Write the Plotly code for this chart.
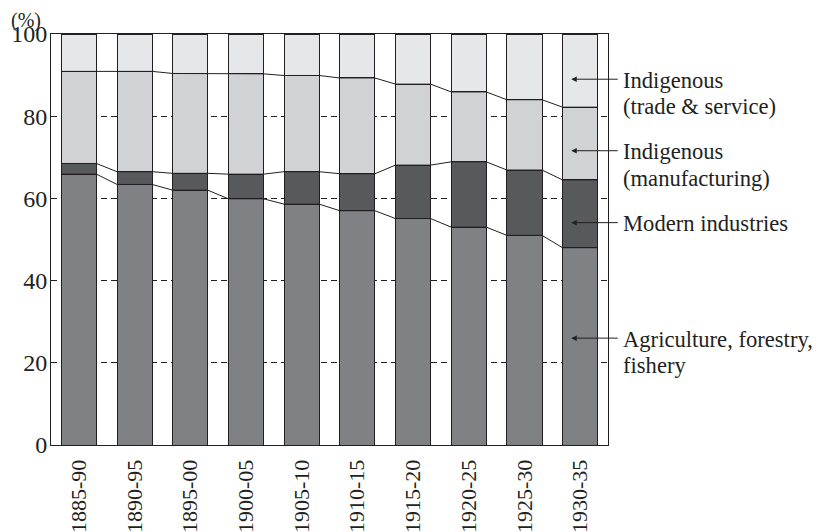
import plotly.graph_objects as go

periods = ["1885-90", "1890-95", "1895-00", "1900-05", "1905-10",
           "1910-15", "1915-20", "1920-25", "1925-30", "1930-35"]
agriculture = [65.9, 63.4, 62.0, 59.9, 58.6, 57.0, 55.1, 53.0, 51.0, 48.0]
modern = [2.6, 3.1, 4.1, 6.0, 7.9, 9.0, 13.0, 15.9, 15.9, 16.5]
manufacturing = [22.4, 24.4, 24.3, 24.4, 23.4, 23.3, 19.7, 17.0, 17.1, 17.7]
trade = [9.1, 9.1, 9.6, 9.7, 10.1, 10.7, 12.2, 14.1, 16.0, 17.8]

series_names = ["Agriculture, forestry, fishery", "Modern industries",
                "Indigenous (manufacturing)", "Indigenous (trade & service)"]
series_values = [agriculture, modern, manufacturing, trade]
series_colors = ["#808184", "#58595b", "#d1d2d4", "#e6e7e8"]
label_lines = [["Agriculture, forestry,", "fishery"], ["Modern industries"],
               ["Indigenous", "(manufacturing)"], ["Indigenous", "(trade & service)"]]

FONT = "'Liberation Serif', 'DejaVu Serif', serif"
INK = "#231f20"
BAR_W = 0.63

x = list(range(len(periods)))
fig = go.Figure()
for name, vals, col in zip(series_names, series_values, series_colors):
    fig.add_trace(go.Bar(x=x, y=vals, name=name, width=BAR_W,
                         marker=dict(color=col, line=dict(color=INK, width=1))))

# connector lines between stacked boundaries
cum = [0.0] * len(periods)
for vals in series_values[:-1]:
    cum = [c + v for c, v in zip(cum, vals)]
    lx, ly = [], []
    for i, c in enumerate(cum):
        lx += [i - BAR_W / 2, i + BAR_W / 2]
        ly += [c, c]
    fig.add_trace(go.Scatter(x=lx, y=ly, mode="lines", hoverinfo="skip",
                             line=dict(color=INK, width=1), showlegend=False))

label_y = [26.0, 54.1, 71.6, 89.0]

annotations = []
for lines, yv in zip(label_lines, label_y):
    annotations.append(dict(x=8.84, y=yv, xref="x", yref="y", text="", showarrow=True,
                            ax=48, ay=0, axref="pixel", ayref="pixel",
                            arrowhead=2, arrowsize=1.1, arrowwidth=1, arrowcolor=INK,
                            standoff=0))
    for k, t in enumerate(lines):
        annotations.append(dict(x=9.5, y=yv, xref="x", yref="y", text=t, showarrow=False,
                                xanchor="left", yanchor="middle", xshift=13,
                                yshift=-1 - 26.5 * k, align="left",
                                font=dict(family=FONT, size=22.6, color=INK)))
annotations.append(dict(x=-0.044, y=1.034, xref="paper", yref="paper", text="(%)",
                        showarrow=False, xanchor="center", yanchor="middle", borderpad=0,
                        font=dict(family=FONT, size=20, color=INK)))

fig.update_layout(
    barmode="stack", width=814, height=524,
    margin=dict(l=43, r=214, t=26, b=87, autoexpand=False),
    paper_bgcolor="white", plot_bgcolor="white",
    showlegend=False, bargap=0.37,
    font=dict(family=FONT, size=22, color=INK),
    annotations=annotations,
    xaxis=dict(range=[-0.5, 9.5], tickmode="array", tickvals=x, ticktext=periods,
               tickangle=-90, showgrid=False, showline=True, linecolor=INK, linewidth=1,
               mirror=True, ticks="", zeroline=False, tickfont=dict(size=22),
               ticklabelstandoff=5, automargin=False),
    yaxis=dict(range=[0, 100], tickvals=[0, 20, 40, 60, 80, 100], showgrid=True,
               gridcolor=INK, gridwidth=1, griddash="6px,4px", showline=True,
               linecolor=INK, linewidth=1, mirror=True, ticks="", zeroline=False,
               tickfont=dict(size=24), ticklabelstandoff=-2, automargin=False),
)

fig.write_html("out.html")
